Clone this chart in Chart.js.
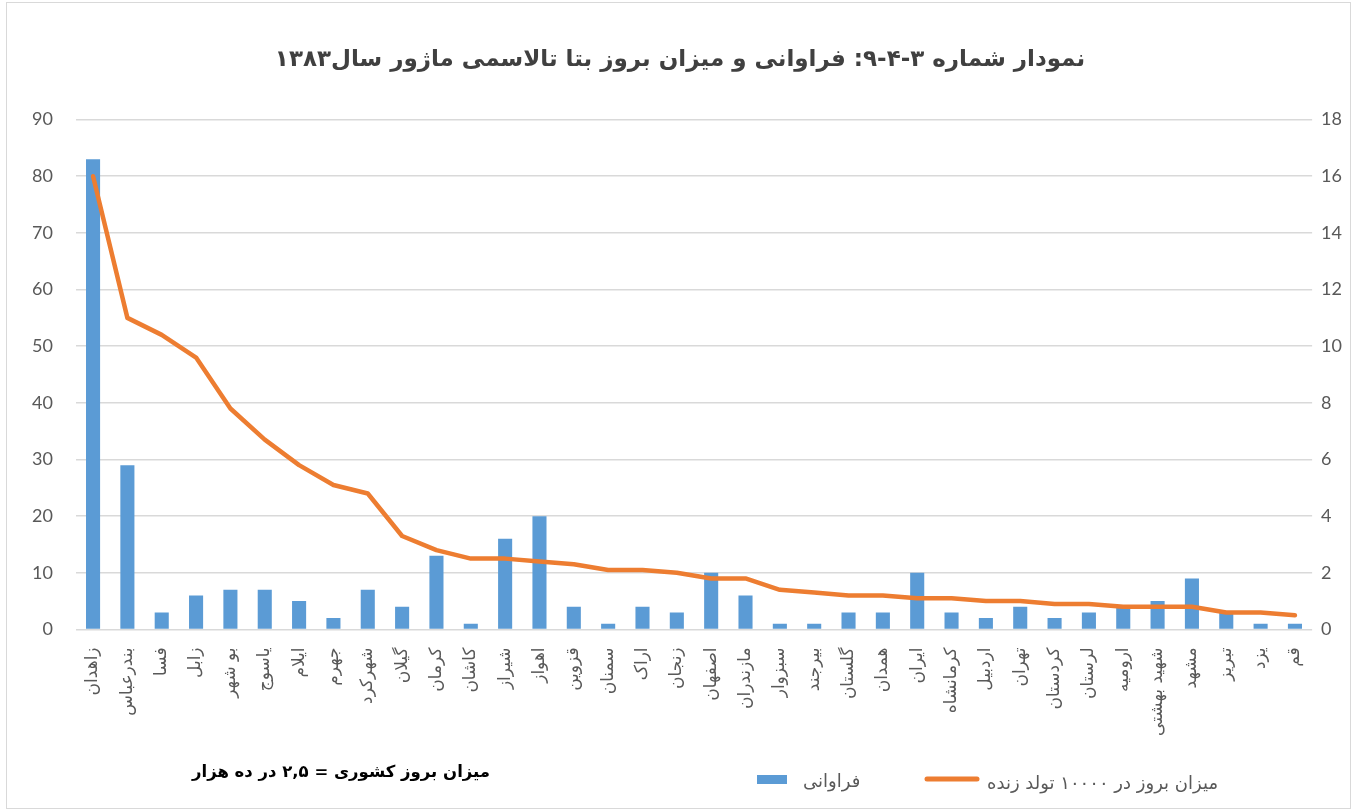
<!DOCTYPE html>
<html lang="fa">
<head>
  <meta charset="UTF-8">
  <title>بتا تالاسمی ماژور ۱۳۸۳</title>
  <script src="https://cdn.jsdelivr.net/npm/chart.js"></script>
  <style>
    body { margin: 0; background: #fff; }
    .wrap { position: relative; width: 1354px; height: 811px; }
    .frame {
      position: absolute; left: 6px; top: 2px; right: 3px; bottom: 2px;
      border: 1px solid #d9d9d9; pointer-events: none;
    }
  </style>
</head>
<body>
  <div class="wrap">
    <canvas id="chart"></canvas>
    <div class="frame"></div>
  </div>
  <script>
    const cities = ['زاهدان', 'بندرعباس', 'فسا', 'زابل', 'بو شهر', 'یاسوج', 'ایلام', 'جهرم', 'شهرکرد', 'گیلان',
      'کرمان', 'کاشان', 'شیراز', 'اهواز', 'قزوین', 'سمنان', 'اراک', 'زنجان', 'اصفهان', 'مازندران',
      'سبزوار', 'بیرجند', 'گلستان', 'همدان', 'ایران', 'کرمانشاه', 'اردبیل', 'تهران', 'کردستان', 'لرستان',
      'ارومیه', 'شهید بهشتی', 'مشهد', 'تبریز', 'یزد', 'قم'];

    // فراوانی (left axis)
    const frequency = [83, 29, 3, 6, 7, 7, 5, 2, 7, 4,
      13, 1, 16, 20, 4, 1, 4, 3, 10, 6,
      1, 1, 3, 3, 10, 3, 2, 4, 2, 3,
      4, 5, 9, 3, 1, 1];

    // میزان بروز در ۱۰۰۰۰ تولد زنده (right axis)
    const incidence = [16, 11, 10.4, 9.6, 7.8, 6.7, 5.8, 5.1, 4.8, 3.3,
      2.8, 2.5, 2.5, 2.4, 2.3, 2.1, 2.1, 2.0, 1.8, 1.8,
      1.4, 1.3, 1.2, 1.2, 1.1, 1.1, 1.0, 1.0, 0.9, 0.9,
      0.8, 0.8, 0.8, 0.6, 0.6, 0.5];

    const titleText = 'نمودار شماره ۳-۴-۹: فراوانی و میزان بروز بتا تالاسمی ماژور سال۱۳۸۳';
    const noteText = 'میزان بروز کشوری = ۲,۵ در ده هزار';

    const blue = '#5b9bd5';
    const orange = '#ed7d31';
    const grey = '#595959';

    // legend + note drawn under the axis labels
    const bottomLegend = {
      id: 'bottomLegend',
      afterDraw(chart) {
        const ctx = chart.ctx;
        const ds = chart.data.datasets;
        ctx.save();
        ctx.direction = 'rtl';
        ctx.textBaseline = 'middle';

        ctx.fillStyle = '#000';
        ctx.font = 'bold 16.5px "DejaVu Sans"';
        ctx.textAlign = 'right';
        ctx.fillText(noteText, 490, 773);

        ctx.font = '18px "DejaVu Sans"';
        ctx.fillStyle = ds[0].backgroundColor;
        ctx.fillRect(757, 775, 30, 9);
        ctx.fillStyle = grey;
        ctx.textAlign = 'left';
        ctx.fillText(ds[0].label, 803, 782);

        ctx.strokeStyle = ds[1].borderColor;
        ctx.lineWidth = 5;
        ctx.lineCap = 'round';
        ctx.beginPath();
        ctx.moveTo(927, 779);
        ctx.lineTo(977, 779);
        ctx.stroke();
        ctx.fillText(ds[1].label, 987, 784);
        ctx.restore();
      }
    };

    new Chart(document.getElementById('chart'), {
      data: {
        labels: cities,
        datasets: [
          {
            type: 'bar',
            label: 'فراوانی',
            data: frequency,
            yAxisID: 'y',
            backgroundColor: blue,
            categoryPercentage: 1,
            barPercentage: 0.41,
            order: 1
          },
          {
            type: 'line',
            label: 'میزان بروز در ۱۰۰۰۰ تولد زنده',
            data: incidence,
            yAxisID: 'y1',
            borderColor: orange,
            backgroundColor: orange,
            borderWidth: 4.5,
            borderCapStyle: 'round',
            borderJoinStyle: 'round',
            pointRadius: 0,
            tension: 0,
            order: 0
          }
        ]
      },
      options: {
        responsive: true,
        maintainAspectRatio: false,
        animation: false,
        layout: { padding: { left: 9, right: 3, top: 0, bottom: 65 } },
        plugins: {
          legend: { display: false },
          tooltip: { enabled: false },
          title: {
            display: true,
            text: titleText,
            color: '#404040',
            font: { family: 'DejaVu Sans', size: 23, weight: 'bold' },
            padding: { top: 46, bottom: 46 }
          }
        },
        scales: {
          x: {
            grid: { display: false },
            border: { display: false },
            ticks: {
              color: grey,
              font: { family: 'DejaVu Sans', size: 17 },
              minRotation: 90,
              maxRotation: 90,
              autoSkip: false,
              padding: 10
            }
          },
          y: {
            position: 'left',
            min: 0,
            max: 90,
            ticks: { stepSize: 10, color: grey, font: { family: 'Lato', size: 18 }, padding: 23 },
            grid: { color: '#d9d9d9', lineWidth: 1.5, drawTicks: false },
            border: { display: false }
          },
          y1: {
            position: 'right',
            min: 0,
            max: 18,
            ticks: { stepSize: 2, color: grey, font: { family: 'Lato', size: 18 }, padding: 9 },
            grid: { drawOnChartArea: false, drawTicks: false },
            border: { display: false }
          }
        }
      },
      plugins: [bottomLegend]
    });
  </script>
</body>
</html>
